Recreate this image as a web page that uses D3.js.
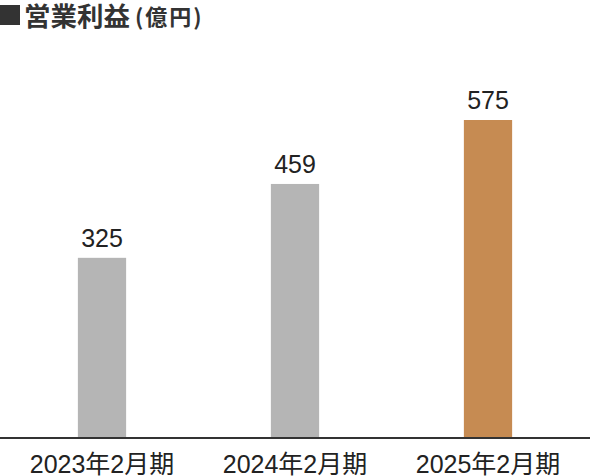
<!DOCTYPE html>
<html><head><meta charset="utf-8">
<script src="https://cdn.jsdelivr.net/npm/d3@7"></script>
<style>
html,body{margin:0;padding:0;background:#fff;}
svg{display:block;}
</style></head>
<body>
<script>
const categories = ["2023年2月期", "2024年2月期", "2025年2月期"];
const values = [325, 459, 575];
const barColors = ["#b5b5b5", "#b5b5b5", "#c68b52"];
const titleMain = "営業利益";
const titleUnit = "(億円)";

const W = 590, H = 476;
const svg = d3.select("body").append("svg").attr("width", W).attr("height", H);
const fontLat = "'Liberation Sans', Arial, 'Noto Sans CJK JP', sans-serif";
const fontCJK = "'Noto Sans CJK JP', sans-serif";

const x = d3.scaleBand().domain(categories).range([5.5, 584.5]).paddingInner(0.75).paddingOuter(0.375);
const y = d3.scaleLinear().domain([0, 575]).range([437, 120]);

// title
svg.append("rect").attr("x", 0).attr("y", 5).attr("width", 20).attr("height", 20).attr("fill", "#333");
svg.append("text").attr("x", 24).attr("y", 26).attr("fill", "#333")
  .style("font-family", fontCJK).style("font-size", "26.5px").style("font-weight", "700")
  .text(titleMain);
svg.append("text").attr("x", 135).attr("y", 25).attr("fill", "#333")
  .style("font-family", fontCJK).style("font-size", "22px").style("font-weight", "700")
  .style("letter-spacing", "2px")
  .text(titleUnit);

// bars
svg.selectAll("rect.bar").data(values).join("rect").attr("class", "bar")
  .attr("x", (d, i) => x(categories[i]))
  .attr("width", x.bandwidth())
  .attr("y", d => y(d))
  .attr("height", d => y(0) - y(d))
  .attr("fill", (d, i) => barColors[i]);

// value labels
svg.selectAll("text.val").data(values).join("text").attr("class", "val")
  .attr("x", (d, i) => x(categories[i]) + x.bandwidth() / 2)
  .attr("y", d => y(d) - 11)
  .attr("text-anchor", "middle")
  .attr("fill", "#222")
  .style("font-family", fontLat).style("font-size", "25px")
  .text(d => d);

// axis
const axis = d3.axisBottom(x).tickSize(0).tickPadding(17.5);
const g = svg.append("g").attr("transform", "translate(0,438)").call(axis);
g.select(".domain").remove();
g.append("line").attr("x1", 0).attr("x2", W).attr("y1", 0).attr("y2", 0).attr("stroke", "#333").attr("stroke-width", 2);
g.selectAll(".tick text").attr("fill", "#222").style("font-family", fontLat).style("font-size", "25px");
</script>
</body></html>
